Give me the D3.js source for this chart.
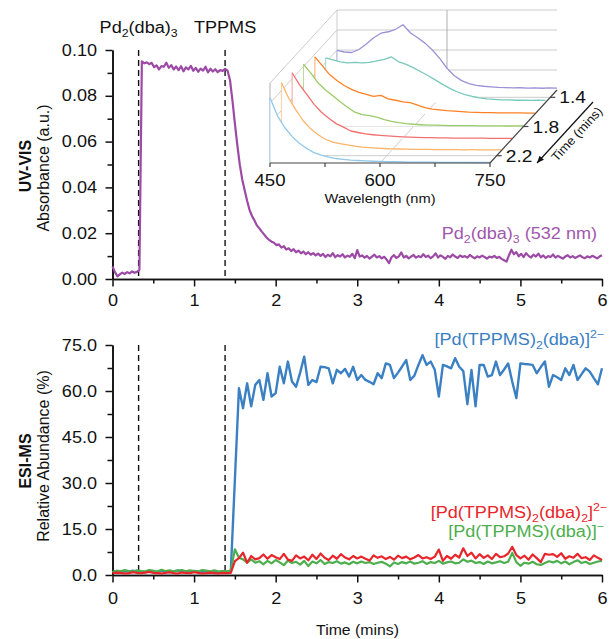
<!DOCTYPE html>
<html>
<head>
<meta charset="utf-8">
<script src="https://cdn.jsdelivr.net/npm/d3@7"></script>
<style>
  body { margin: 0; background: #fff; }
  svg { display: block; }
  text { font-family: "Liberation Sans", Arial, Helvetica, sans-serif; }
</style>
</head>
<body>
<svg id="fig" width="609" height="639"></svg>
<script>
// ---------- Data ----------
// Time axis ticks (min)
const timeTicks = [0, 1, 2, 3, 4, 5, 6];
const timeMinorTicks = [0.5, 1.5, 2.5, 3.5, 4.5, 5.5];
const uvTicks = [0, 0.02, 0.04, 0.06, 0.08, 0.10];
const uvMinorTicks = [0.01, 0.03, 0.05, 0.07, 0.09];
const msTicks = [0, 15, 30, 45, 60, 75];
const msMinorTicks = [7.5, 22.5, 37.5, 52.5, 67.5];

// Reagent addition times (min)
const additionTimes = [0.32, 1.38];
const additionNames = ["Pd2(dba)3", "TPPMS"];

// UV-VIS absorbance at 532 nm, sampled every 0.03 min from t = 0
const UV_STEP = 0.03;
const uvAbsorbance = [
  // 0.00 - 0.33
  0.0055, 0.0030, 0.0012, 0.0020, 0.0028, 0.0022, 0.0030, 0.0025, 0.0033, 0.0027, 0.0031, 0.0040,
  // 0.36 - 1.41
  0.0950, 0.0942, 0.0946, 0.0938, 0.0944, 0.0925, 0.0933, 0.0915, 0.0930, 0.0927,
  0.0945, 0.0922, 0.0934, 0.0915, 0.0928, 0.0912, 0.0929, 0.0907, 0.0924, 0.0915,
  0.0931, 0.0909, 0.0922, 0.0905, 0.0919, 0.0910, 0.0927, 0.0902, 0.0918, 0.0906,
  0.0916, 0.0903, 0.0912, 0.0908, 0.0918, 0.0910,
  // 1.44 - 2.52
  0.0869, 0.0780, 0.0680, 0.0585, 0.0500, 0.0435, 0.0388, 0.0342, 0.0302, 0.0275,
  0.0256, 0.0234, 0.0221, 0.0207, 0.0194, 0.0180, 0.0171, 0.0163, 0.0158, 0.0148,
  0.0151, 0.0137, 0.0143, 0.0129, 0.0134, 0.0122, 0.0130, 0.0117, 0.0124, 0.0112,
  0.0120, 0.0108, 0.0117, 0.0106, 0.0113, 0.0103, 0.0111,
  // 2.55 - 6.00
  0.0101, 0.0110, 0.0096, 0.0106, 0.0099, 0.0113, 0.0095, 0.0104, 0.0098, 0.0108,
  0.0094, 0.0102, 0.0097, 0.0110, 0.0091, 0.0126, 0.0098, 0.0103, 0.0093, 0.0101,
  0.0089, 0.0098, 0.0106, 0.0094, 0.0100, 0.0090, 0.0097, 0.0085, 0.0069, 0.0095,
  0.0104, 0.0092, 0.0099, 0.0116, 0.0094, 0.0101, 0.0090, 0.0098, 0.0105, 0.0093,
  0.0100, 0.0095, 0.0108, 0.0096, 0.0102, 0.0091, 0.0099, 0.0112, 0.0094, 0.0103,
  0.0097, 0.0088, 0.0101, 0.0095, 0.0107, 0.0098, 0.0092, 0.0103, 0.0096, 0.0100,
  0.0093, 0.0105, 0.0097, 0.0090, 0.0099, 0.0094, 0.0102, 0.0096, 0.0089, 0.0098,
  0.0094, 0.0101, 0.0092, 0.0097, 0.0088, 0.0082, 0.0076, 0.0104, 0.0128, 0.0108,
  0.0117, 0.0099, 0.0110, 0.0096, 0.0113, 0.0101, 0.0094, 0.0106, 0.0098, 0.0111,
  0.0095, 0.0103, 0.0092, 0.0100, 0.0096, 0.0107, 0.0093, 0.0101, 0.0095, 0.0089,
  0.0098, 0.0104, 0.0094, 0.0100, 0.0092, 0.0097, 0.0103, 0.0095, 0.0091, 0.0099,
  0.0094, 0.0101, 0.0096, 0.0090, 0.0098, 0.0104
];

// ESI-MS relative abundance (%), sampled every 0.05 min from t = 0
const MS_STEP = 0.05;
const msPdL2dba = [ // [Pd(TPPMS)2(dba)]2-
  1.0, 1.2, 0.9, 1.3, 1.1, 1.4, 1.0, 1.2, 0.9, 1.3,
  1.1, 1.0, 1.4, 1.1, 0.9, 1.2, 1.5, 1.0, 1.2, 0.9,
  1.3, 1.1, 1.0, 1.2, 0.9, 1.1, 1.0, 1.2, 1.0, 1.1,
  31.0, 60.9, 54.4, 62.5, 55.0, 62.0, 63.6, 57.1, 65.8, 58.2,
  59.3, 67.9, 62.5, 69.6, 63.1, 61.4, 66.0, 71.2, 62.0, 63.6,
  62.9, 67.9, 67.8, 67.4, 62.5, 66.9, 65.8, 67.2, 64.7, 67.9,
  63.6, 65.2, 63.6, 63.0, 62.2, 65.8, 64.2, 69.0, 68.5, 64.2,
  66.0, 68.0, 70.1, 63.6, 65.0, 68.5, 71.7, 68.5, 69.6, 66.9,
  58.2, 68.5, 68.0, 67.4, 70.7, 67.9, 66.5, 55.7, 66.9, 55.0,
  68.5, 68.5, 64.7, 65.2, 69.6, 65.2, 67.0, 69.0, 63.0, 57.7,
  69.0, 68.8, 68.7, 68.5, 65.8, 67.8, 69.6, 61.4, 65.2, 64.5,
  63.6, 67.4, 65.2, 68.5, 63.6, 65.5, 67.4, 66.3, 64.2, 62.2,
  67.4
];
const msPdL2dba2 = [ // [Pd(TPPMS)2(dba)2]2-
  0.6, 0.8, 0.7, 0.5, 0.6, 0.9, 0.7, 0.6, 0.8, 1.0,
  0.7, 0.6, 0.5, 0.7, 0.9, 0.6, 0.5, 0.8, 0.7, 0.6,
  0.9, 0.7, 0.5, 0.6, 0.8, 0.6, 0.5, 0.7, 0.6, 0.7,
  4.5, 5.5, 7.3, 4.0, 6.2, 5.1, 5.5, 6.7, 5.3, 6.5,
  5.8, 5.2, 6.9, 5.0, 4.6, 6.4, 5.4, 6.0, 4.8, 6.6,
  5.2, 7.0, 5.6, 4.9, 6.3, 5.3, 6.8, 5.7, 5.1, 6.2,
  5.4, 6.0, 5.3, 4.7, 6.4, 5.6, 6.1, 5.2, 5.9, 5.0,
  6.3, 5.5, 6.0, 5.1, 5.7, 6.5, 5.4, 5.8, 5.2, 6.0,
  8.3, 4.6, 6.2, 5.3, 6.6, 5.7, 8.7, 6.2, 7.3, 5.4,
  6.8, 5.6, 6.4, 5.2, 6.9, 5.8, 6.1, 7.0, 9.2, 6.5,
  5.4, 6.3, 5.0, 6.7, 5.5, 4.2, 6.9, 6.6, 6.8, 5.9,
  7.1, 5.3, 6.1, 5.6, 6.9, 5.5, 5.8, 4.9, 6.4, 5.6,
  4.9
];
const msPdLdba = [ // [Pd(TPPMS)(dba)]-
  1.0, 1.4, 1.2, 1.6, 1.3, 1.1, 1.5, 1.3, 1.2, 1.6,
  1.4, 1.1, 1.7, 1.3, 1.5, 1.2, 1.4, 1.6, 1.2, 1.5,
  1.3, 1.1, 1.6, 1.4, 1.2, 1.5, 1.1, 1.3, 1.2, 1.4,
  8.4, 5.6, 5.1, 4.0, 5.1, 4.0, 4.5, 3.5, 4.6, 3.8,
  4.9, 4.1, 3.2, 4.7, 3.9, 4.3, 3.4, 4.6, 2.9, 4.4,
  3.8, 4.9, 3.6, 4.2, 3.9, 4.5, 3.7, 4.1, 3.5, 4.3,
  3.8, 4.4, 3.9, 4.2, 3.6, 4.0, 4.3, 3.7, 2.8, 4.1,
  3.6, 4.2, 3.8, 4.4, 3.7, 4.0, 4.5, 3.6, 4.2, 3.9,
  4.6, 3.7, 4.1, 4.4, 3.8, 4.0, 5.1, 4.3, 4.7, 3.9,
  4.2, 3.6, 4.4, 3.8, 4.1, 4.5, 3.9, 4.3, 7.2, 4.2,
  3.0, 4.0, 3.7, 4.3, 3.5, 3.3, 3.9, 4.5, 4.1, 4.6,
  3.8, 4.4, 3.5, 4.2, 4.8, 3.9, 4.3, 3.6, 4.0, 4.4,
  4.6
];

// Inset: UV-VIS spectra (a.u.) at selected times
const insetWavelengths = [450, 460, 470, 480, 490, 500, 510, 520, 530, 540, 550, 560, 570, 580, 590, 600,
  610, 620, 630, 640, 650, 660, 670, 680, 690, 700, 710, 720, 730, 740, 750];
const insetWlTicks = [450, 600, 750];
const insetWlMinor = [525, 675];
const insetTimeTicks = [1.4, 1.8, 2.2];
const insetTimes = [1.30, 1.47, 1.63, 1.80, 1.97, 2.13, 2.30];
const spec130 = [0.0494, 0.0475, 0.0469, 0.0506, 0.0574, 0.0654, 0.0710, 0.0728, 0.0759, 0.0815, 0.0716, 0.0654,
  0.0586, 0.0500, 0.0395, 0.0272, 0.0179, 0.0117, 0.0080, 0.0059, 0.0047, 0.0040, 0.0032, 0.0030, 0.0026, 0.0028,
  0.0023, 0.0026, 0.0022, 0.0027, 0.0023];
const spec147 = [0.0556, 0.0531, 0.0506, 0.0494, 0.0500, 0.0494, 0.0500, 0.0519, 0.0537, 0.0568, 0.0506, 0.0475,
  0.0432, 0.0383, 0.0333, 0.0278, 0.0222, 0.0173, 0.0130, 0.0096, 0.0074, 0.0057, 0.0044, 0.0038, 0.0032, 0.0031,
  0.0027, 0.0028, 0.0025, 0.0027, 0.0025];
const spec163 = [0.0716, 0.0605, 0.0494, 0.0420, 0.0358, 0.0309, 0.0272, 0.0247, 0.0222, 0.0235, 0.0191, 0.0173,
  0.0154, 0.0142, 0.0111, 0.0080, 0.0062, 0.0052, 0.0043, 0.0037, 0.0032, 0.0025, 0.0022, 0.0019, 0.0019, 0.0015,
  0.0016, 0.0014, 0.0015, 0.0012, 0.0012];
const spec180 = [0.0778, 0.0667, 0.0543, 0.0457, 0.0383, 0.0309, 0.0241, 0.0179, 0.0148, 0.0136, 0.0117, 0.0086,
  0.0064, 0.0049, 0.0037, 0.0028, 0.0022, 0.0017, 0.0016, 0.0015, 0.0012, 0.0011, 0.0010, 0.0010, 0.0009, 0.0009,
  0.0007, 0.0007, 0.0006, 0.0007, 0.0006];
const spec197 = [0.0827, 0.0679, 0.0556, 0.0432, 0.0333, 0.0259, 0.0191, 0.0148, 0.0099, 0.0080, 0.0062, 0.0052,
  0.0044, 0.0037, 0.0032, 0.0026, 0.0022, 0.0020, 0.0017, 0.0016, 0.0014, 0.0012, 0.0011, 0.0010, 0.0010, 0.0009,
  0.0009, 0.0007, 0.0007, 0.0006, 0.0006];
const spec213 = [0.0852, 0.0654, 0.0506, 0.0370, 0.0272, 0.0198, 0.0142, 0.0105, 0.0086, 0.0072, 0.0057, 0.0044,
  0.0037, 0.0031, 0.0026, 0.0022, 0.0020, 0.0019, 0.0016, 0.0015, 0.0014, 0.0012, 0.0012, 0.0011, 0.0011, 0.0010,
  0.0011, 0.0010, 0.0010, 0.0009, 0.0010];
const spec230 = [0.0815, 0.0593, 0.0444, 0.0333, 0.0247, 0.0181, 0.0130, 0.0099, 0.0074, 0.0056, 0.0046, 0.0037,
  0.0031, 0.0026, 0.0022, 0.0020, 0.0017, 0.0016, 0.0014, 0.0012, 0.0011, 0.0010, 0.0010, 0.0009, 0.0009, 0.0007,
  0.0007, 0.0007, 0.0006, 0.0006, 0.0006];
const insetColors = ["#9a92d6", "#78c9ba", "#ff8124", "#9acb68", "#f27070", "#ffb468", "#90c8ea"];

// ---------- Drawing ----------
const SX = 1.13;             // horizontal glyph width factor
const INK = "#111";
const COL = { purple: "#9c4aa6", purpleText: "#a157ad", blue: "#3a80c3", red: "#e8252a", green: "#4cae4c" };
const svg = d3.select("#fig");

const x = d3.scaleLinear().domain([0, 6]).range([112.5, 602]);
const yUV = d3.scaleLinear().domain([0, 0.10]).range([279, 50]);
const yMS = d3.scaleLinear().domain([0, 75]).range([575, 345]);

// Text with sub/superscript pieces, widened horizontally
function richText(parent, px, py, parts, opt = {}) {
  const size = opt.size || 16;
  const t = parent.append("text")
    .attr("transform", `translate(${px},${py}) scale(${opt.sx || SX},1)`)
    .attr("text-anchor", opt.anchor || "start")
    .attr("font-size", size)
    .attr("font-weight", opt.weight || "normal")
    .attr("fill", opt.fill || INK);
  let off = 0;
  parts.forEach(p => {
    const [s, kind] = Array.isArray(p) ? p : [p, null];
    const target = kind === "sub" ? size * 0.28 : kind === "sup" ? -size * 0.42 : 0;
    t.append("tspan").attr("dy", target - off).attr("font-size", kind ? size * 0.68 : size).text(s);
    off = target;
  });
  return t;
}

function styleAxis(g) {
  g.select(".domain").attr("stroke", INK).attr("stroke-width", 1.6);
  g.selectAll(".tick line").attr("stroke", INK).attr("stroke-width", 1.5);
  g.selectAll(".tick text").attr("font-size", 16).attr("fill", INK)
    .attr("font-family", '"Liberation Sans", Arial, sans-serif');
}

function drawPanel(y, ticks, minor, fmt, xPad) {
  const y0 = y.range()[0];
  // x axis
  const gxm = svg.append("g").attr("transform", `translate(0,${y0})`)
    .call(d3.axisBottom(x).tickValues(timeMinorTicks).tickSize(4.5).tickSizeOuter(0).tickFormat(""));
  styleAxis(gxm);
  const gx = svg.append("g").attr("transform", `translate(0,${y0})`)
    .call(d3.axisBottom(x).tickValues(timeTicks).tickSize(7.5).tickSizeOuter(0).tickPadding(xPad).tickFormat(d3.format("d")));
  styleAxis(gx);
  gx.selectAll(".tick text").attr("transform", `scale(${SX},1)`);
  // y axis
  const gym = svg.append("g").attr("transform", `translate(${x(0)},0)`)
    .call(d3.axisLeft(y).tickValues(minor).tickSize(5).tickSizeOuter(0).tickFormat(""));
  styleAxis(gym);
  const gy = svg.append("g").attr("transform", `translate(${x(0)},0)`)
    .call(d3.axisLeft(y).tickValues(ticks).tickSize(7).tickSizeOuter(0).tickFormat(fmt));
  styleAxis(gy);
  gy.selectAll(".tick text").attr("x", -15.5 / SX).attr("transform", `scale(${SX},1)`);
  // reagent addition markers
  svg.append("g").selectAll("line").data(additionTimes).join("line")
    .attr("x1", d => x(d)).attr("x2", d => x(d))
    .attr("y1", y.range()[1]).attr("y2", y0)
    .attr("stroke", INK).attr("stroke-width", 1.4).attr("stroke-dasharray", "6,4");
}

// ----- UV-VIS panel -----
drawPanel(yUV, uvTicks, uvMinorTicks, d3.format(".2f"), 8.5);
const uvSeries = uvAbsorbance.map((v, i) => ({ t: i * UV_STEP, v }));
svg.append("path").datum(uvSeries)
  .attr("fill", "none").attr("stroke", COL.purple).attr("stroke-width", 2.2).attr("stroke-linejoin", "round")
  .attr("d", d3.line().x(d => x(d.t)).y(d => yUV(d.v)));

richText(svg, x(additionTimes[0]), 33, ["Pd", ["2", "sub"], "(dba)", ["3", "sub"]], { anchor: "middle" });
richText(svg, x(additionTimes[1]), 33, [additionNames[1]], { anchor: "middle" });
richText(svg, 597, 239, ["Pd", ["2", "sub"], "(dba)", ["3", "sub"], " (532 nm)"], { anchor: "end", fill: COL.purpleText });

svg.append("text").attr("transform", "translate(31,166) rotate(-90)").attr("text-anchor", "middle")
  .attr("font-size", 16).attr("font-weight", "bold").attr("fill", INK).text("UV-VIS");
svg.append("text").attr("transform", "translate(49,168) rotate(-90)").attr("text-anchor", "middle")
  .attr("font-size", 16).attr("fill", INK).text("Absorbance (a.u.)");

// ----- ESI-MS panel -----
drawPanel(yMS, msTicks, msMinorTicks, d3.format(".1f"), 10.5);
const msLine = d3.line().x(d => x(d.t)).y(d => yMS(d.v));
[[msPdL2dba, COL.blue, 2.4], [msPdLdba, COL.green, 2.2], [msPdL2dba2, COL.red, 2.2]].forEach(([arr, c, w]) => {
  svg.append("path").datum(arr.map((v, i) => ({ t: i * MS_STEP, v })))
    .attr("fill", "none").attr("stroke", c).attr("stroke-width", w).attr("stroke-linejoin", "round")
    .attr("d", msLine);
});
richText(svg, 604, 345, ["[Pd(TPPMS)", ["2", "sub"], "(dba)]", ["2\u2212", "sup"]], { anchor: "end", fill: COL.blue });
richText(svg, 607, 518, ["[Pd(TPPMS)", ["2", "sub"], "(dba)", ["2", "sub"], "]", ["2\u2212", "sup"]], { anchor: "end", fill: COL.red });
richText(svg, 604, 537, ["[Pd(TPPMS)(dba)]", ["\u2212", "sup"]], { anchor: "end", fill: COL.green });

svg.append("text").attr("transform", "translate(31,461) rotate(-90)").attr("text-anchor", "middle")
  .attr("font-size", 16).attr("font-weight", "bold").attr("fill", INK).text("ESI-MS");
svg.append("text").attr("transform", "translate(49,456) rotate(-90)").attr("text-anchor", "middle")
  .attr("font-size", 16).attr("fill", INK).text("Relative Abundance (%)");
richText(svg, 357.5, 635, ["Time (mins)"], { anchor: "middle", size: 14 });

// ----- Inset: waterfall of spectra -----
const inWl = d3.scaleLinear().domain([450, 750]).range([270, 490]);
const inDepth = d3.scaleLinear().domain([2.3, 1.3]).range([0, 1]);
const inZ = d3.scaleLinear().domain([0, 0.10]).range([0, 80]);
const DEPTH = [67, -73], FLOOR_Y = 163;
const P = (wl, t, z) => {
  const f = inDepth(t);
  return [inWl(wl) + DEPTH[0] * f, FLOOR_Y + DEPTH[1] * f - inZ(z)];
};
const inset = svg.append("g");
const seg = (a, b, stroke, w) => inset.append("line")
  .attr("x1", a[0]).attr("y1", a[1]).attr("x2", b[0]).attr("y2", b[1])
  .attr("stroke", stroke).attr("stroke-width", w);
const GRID = "#c6c6c6";
const tBack = inDepth.domain()[1], tFront = inDepth.domain()[0];
const zLevels = [0.025, 0.05, 0.075, 0.10];
// back wall
zLevels.forEach(z => seg(P(450, tBack, z), P(750, tBack, z), GRID, 0.9));
seg(P(450, tBack, 0), P(450, tBack, 0.10), GRID, 0.9);
seg(P(600, tBack, 0), P(600, tBack, 0.10), "#a6a6a6", 0.9);
// left wall
zLevels.forEach(z => seg(P(450, tFront, z), P(450, tBack, z), GRID, 0.9));
seg(P(450, tFront, 0), P(450, tFront, 0.10), "#a6a6a6", 0.9);
// floor
seg(P(450, tFront, 0), P(450, tBack, 0), GRID, 0.9);
insetTimeTicks.forEach(t => seg(P(450, t, 0), P(750, t, 0), GRID, 0.9));
seg(P(600, tFront, 0), P(600, tBack, 0), GRID, 0.9);

// spectra, back to front
const spectra = [spec130, spec147, spec163, spec180, spec197, spec213, spec230];
spectra.forEach((s, k) => {
  const t = insetTimes[k];
  const pts = s.map((v, i) => P(insetWavelengths[i], t, v));
  const poly = pts.concat([P(750, t, 0), P(450, t, 0)]);
  inset.append("path").attr("d", "M" + poly.join("L") + "Z").attr("fill", "#fff").attr("stroke", "none");
  seg(pts[0], P(450, t, 0), insetColors[k], 0.9).attr("stroke-opacity", 0.75);
  inset.append("path").attr("d", d3.line()(pts))
    .attr("fill", "none").attr("stroke", insetColors[k]).attr("stroke-width", 1.3).attr("stroke-linejoin", "round");
});

// inset axes
const AX = "#444";
seg(P(450, tFront, 0), P(750, tFront, 0), AX, 1.2);
insetWlTicks.concat(insetWlMinor).forEach(w => {
  const p = P(w, tFront, 0);
  seg(p, [p[0], p[1] + 4], AX, 1.2);
});
insetWlTicks.forEach(w => richText(inset, inWl(w), 186, [String(w)], { anchor: "middle", size: 16.5 }));
richText(inset, 380, 203, ["Wavelength (nm)"], { anchor: "middle", size: 13 });

seg(P(750, tFront, 0), P(750, tBack, 0), AX, 1.2);
insetTimeTicks.forEach(t => {
  const p = P(750, t, 0);
  seg(p, [p[0] + 5, p[1]], AX, 1.2);
  richText(inset, p[0] + 9, p[1] + 6, [t.toFixed(1)], { size: 17 });
});

// time direction arrow
const a0 = [593, 102], a1 = [537, 163];
seg(a0, a1, INK, 1.2);
const ang = Math.atan2(a1[1] - a0[1], a1[0] - a0[0]);
const head = [[0, 0], [-7, -3], [-7, 3]].map(([u, v]) => [
  a1[0] + u * Math.cos(ang) - v * Math.sin(ang),
  a1[1] + u * Math.sin(ang) + v * Math.cos(ang)
]);
inset.append("path").attr("d", "M" + head.join("L") + "Z").attr("fill", INK);
inset.append("text")
  .attr("transform", `translate(580,137) rotate(${ang * 180 / Math.PI + 180}) scale(1.05,1)`)
  .attr("text-anchor", "middle").attr("font-size", 12.5).attr("fill", INK).text("Time (mins)");
</script>
</body>
</html>
